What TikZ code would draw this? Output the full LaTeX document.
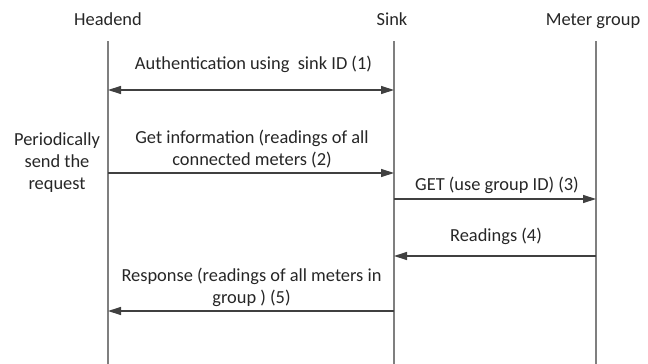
\documentclass[tikz,border=0pt]{standalone}
\usepackage{fontspec}
\setmainfont{Carlito}
\usetikzlibrary{arrows.meta}
\definecolor{lifegray}{HTML}{7F7F7F}
\definecolor{msggray}{HTML}{404040}
\definecolor{txtgray}{HTML}{262626}
\begin{document}
\begin{tikzpicture}[x=1pt,y=-1pt,
  lbl/.style={font=\fontsize{18.4}{22}\selectfont, text=txtgray, inner sep=0pt, align=center, anchor=base},
  lifeline/.style={draw=lifegray, line width=1.6pt},
  tip/.tip={Triangle[length=13pt,width=8pt]},
  msg/.style={draw=msggray, line width=1.3pt, -tip},
  twoway/.style={draw=msggray, line width=1.3pt, tip-tip},
  ]
\useasboundingbox (0,0) rectangle (648,364);

% participants
\node[lbl] (headend) at (108,25.5) {Headend};
\node[lbl] (sink) at (392,25.5) {Sink};
\node[lbl] (meters) at (593,25.5) {Meter group};

% lifelines
\coordinate (hTop) at (108,41);  \coordinate (hBot) at (108,364);
\coordinate (sTop) at (394,41);  \coordinate (sBot) at (394,364);
\coordinate (mTop) at (596,41);  \coordinate (mBot) at (596,364);
\draw[lifeline] (hTop) -- (hBot);
\draw[lifeline] (sTop) -- (sBot);
\draw[lifeline] (mTop) -- (mBot);

% message anchor points on the lifelines
\coordinate (h1) at (108,90);  \coordinate (s1) at (394,90);
\coordinate (h2) at (108,173); \coordinate (s2) at (394,173);
\coordinate (s3) at (394,199); \coordinate (m3) at (596,199);
\coordinate (s4) at (394,256); \coordinate (m4) at (596,256);
\coordinate (h5) at (108,311); \coordinate (s5) at (394,311);

% messages
\draw[twoway] (h1) -- (s1);
\draw[msg] (h2) -- (s2);
\draw[msg] (s3) -- (m3);
\draw[msg] (m4) -- (s4);
\draw[msg] (s5) -- (h5);

% message labels (multi-line nodes sit on their last baseline)
\node[lbl] (auth) at (253.5,69) {Authentication using~~sink ID (1)};
\node[lbl] (getinfo) at (252,165) {Get information (readings of all\\connected meters (2)};
\node[lbl] (period) at (57,189) {Periodically\\send the\\request};
\node[lbl] (getgrp) at (497,190) {GET (use group ID) (3)};
\node[lbl] (read) at (496,241) {Readings (4)};
\node[lbl] (resp) at (251.5,303) {Response (readings of all meters in\\group ) (5)};
\end{tikzpicture}
\end{document}
